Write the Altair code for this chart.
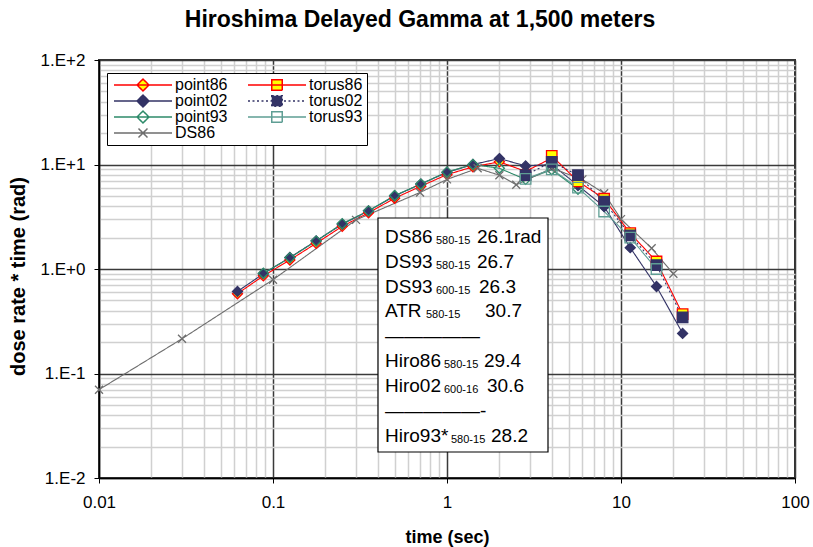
import altair as alt
import pandas as pd

FONT = "Liberation Sans"

# ---------------- data ----------------
point86_t = [0.0625, 0.088, 0.125, 0.177, 0.25, 0.354, 0.5, 0.707, 1.0, 1.41, 2.0, 2.83, 4.0]
point86_v = [0.58, 0.86, 1.22, 1.76, 2.56, 3.45, 4.75, 6.2, 8.0, 9.5, 10.6, 8.6, 11.5]

point02_t = [0.0625, 0.088, 0.125, 0.177, 0.25, 0.354, 0.5, 0.707, 1.0, 1.41, 2.0, 2.83, 4.0,
             5.66, 8.0, 11.3, 16.0, 22.6]
point02_v = [0.61, 0.90, 1.29, 1.86, 2.68, 3.6, 5.0, 6.5, 8.4, 10.0, 11.4, 9.7, 10.0,
             6.3, 3.95, 1.6, 0.68, 0.242]

point93_t = [0.088, 0.125, 0.177, 0.25, 0.354, 0.5, 0.707, 1.0, 1.41, 2.0, 2.83, 4.0, 5.66]
point93_v = [0.91, 1.28, 1.85, 2.72, 3.6, 5.05, 6.5, 8.5, 10.0, 9.2, 7.2, 8.9, 5.8]

ds86_t = [0.01, 0.03, 0.1, 0.3, 0.7, 1.0, 1.5, 2.0, 2.5, 4.0, 6.0, 8.0, 10.0, 15.0, 20.0]
ds86_v = [0.07, 0.215, 0.79, 2.95, 5.4, 7.2, 9.2, 7.9, 6.4, 9.2, 7.2, 5.3, 3.0, 1.58, 0.9]

torus86_t = [4.0, 5.66, 8.0, 11.3, 16.0, 22.6]
torus86_v = [12.1, 6.9, 4.7, 2.2, 1.18, 0.37]

torus02_t = [2.83, 4.0, 5.66, 8.0, 11.3, 16.0, 22.6]
torus02_v = [7.9, 10.6, 7.9, 4.4, 2.1, 1.09, 0.345]

torus93_t = [2.83, 4.0, 5.66, 8.0, 11.3, 16.0]
torus93_v = [7.3, 9.0, 6.0, 3.55, 2.0, 1.0]

series_order = ["point86", "point02", "point93", "DS86", "torus86", "torus02", "torus93"]

note_labels = ["DS86", "DS93", "DS93", "ATR", "Hiro86", "Hiro02", "Hiro93*"]
note_subs = ["580-15", "580-15", "600-15", "580-15", "580-15", "600-16", "580-15"]
note_values = ["26.1rad", "26.7", "26.3", "30.7", "29.4", "30.6", "28.2"]
note_dashes = ["—————", "—————-"]

# ---------------- build table ----------------
series_map = {
    "point86": (point86_t, point86_v),
    "point02": (point02_t, point02_v),
    "point93": (point93_t, point93_v),
    "DS86": (ds86_t, ds86_v),
    "torus86": (torus86_t, torus86_v),
    "torus02": (torus02_t, torus02_v),
    "torus93": (torus93_t, torus93_v),
}
rows = []
for name in series_order:
    ts, vs = series_map[name]
    for t, v in zip(ts, vs):
        rows.append({"series": name, "t": t, "v": v})
df = pd.DataFrame(rows)

# ---------------- styles (in series_order) ----------------
stroke_rng = ["#ff0000", "#333366", "#2e8b6a", "#6e6e6e", "#ff0000", "#333366", "#5f9e94"]
fill_rng = ["#ffff00", "#333366", "transparent", "transparent", "#ffff00", "#333366", "transparent"]
dash_rng = [[1, 0], [1, 0], [1, 0], [1, 0], [1, 0], [2, 2.5], [1, 0]]
DIAM = "M0,-1L1,0L0,1L-1,0Z"
SQR = "M-1.05,-1.05L1.05,-1.05L1.05,1.05L-1.05,1.05Z"
XMK = "M-0.8,-0.8L0.8,0.8M-0.8,0.8L0.8,-0.8"
shape_rng = [DIAM, DIAM, DIAM, XMK, SQR, SQR, SQR]
LD = "M-5.8,0L5.8,0M0,-1.2L1.2,0L0,1.2L-1.2,0Z"
LS = "M-5.8,0L5.8,0M-1.05,-1.05L1.05,-1.05L1.05,1.05L-1.05,1.05Z"
LX = "M-5.8,0L5.8,0M-0.9,-0.9L0.9,0.9M-0.9,0.9L0.9,-0.9"
legend_shape_rng = [LD, LD, LD, LX, LS, LS, LS]


def sc(rng):
    return alt.Scale(domain=series_order, range=rng)


major = "abs(log(datum.value)/LN10 - round(log(datum.value)/LN10)) < 0.001"
grid_vals = [k * 10.0 ** e for e in range(-2, 2) for k in range(1, 10)] + [100.0]
grid_color = {"condition": {"test": major, "value": "#3a3a3a"}, "value": "#d0d0d0"}
tick_size = {"condition": {"test": major, "value": 5}, "value": 0}

x_axis = alt.Axis(
    values=grid_vals, labelExpr=f"{major} ? format(datum.value, '~g') : ''",
    grid=True, gridColor=grid_color, gridWidth=1.5, tickSize=tick_size, tickColor="black",
    domainColor="black", domainWidth=1.5, labelFont=FONT, labelFontSize=17, labelColor="black",
    labelPadding=11, labelFlush=False, labelOverlap=False,
    title="time (sec)", titleFont=FONT, titleFontSize=18, titleFontWeight="bold", titleColor="black",
    titleX=348, titleY=59, titleBaseline="middle", titleAlign="center",
)
y_axis = alt.Axis(
    values=grid_vals,
    labelExpr=(f"{major} ? ('1.E' + (round(log(datum.value)/LN10) >= 0 ? '+' : '-') + "
               "abs(round(log(datum.value)/LN10))) : ''"),
    grid=True, gridColor=grid_color, gridWidth=1.5, tickSize=tick_size, tickColor="black",
    domainColor="black", domainWidth=1.5, labelFont=FONT, labelFontSize=17, labelColor="black",
    labelPadding=9, labelOverlap=False, labelFlush=False,
    title="dose rate * time (rad)", titleFont=FONT, titleFontSize=20, titleFontWeight="bold",
    titleColor="black", titleX=-81, titleY=216, titleAngle=-90, titleBaseline="middle",
    titleAlign="center",
)

X = alt.X("t:Q", scale=alt.Scale(type="log", domain=[0.01, 100], nice=False), axis=x_axis)
Y = alt.Y("v:Q", scale=alt.Scale(type="log", domain=[0.01, 100], nice=False), axis=y_axis)

lines = alt.Chart(df).mark_line(strokeWidth=1.1).encode(
    x=X, y=Y,
    stroke=alt.Stroke("series:N", scale=sc(stroke_rng), legend=None),
    strokeDash=alt.StrokeDash("series:N", scale=sc(dash_rng), legend=None),
)

points = alt.Chart(df).mark_point(opacity=1, size=100, strokeWidth=1.3).encode(
    x=X, y=Y,
    shape=alt.Shape("series:N", scale=sc(shape_rng), legend=None),
    fill=alt.Fill("series:N", scale=sc(fill_rng), legend=None),
    stroke=alt.Stroke("series:N", scale=sc(stroke_rng), legend=None),
)

leg = alt.Legend(
    title=None, orient="none", legendX=8, legendY=13, columns=2,
    symbolSize=100, symbolOffset=24, labelOffset=24,
    labelFont=FONT, labelFontSize=16, labelColor="black", labelLimit=0,
    padding=4, strokeColor="black", fillColor="white", cornerRadius=0,
    clipHeight=16, rowPadding=0, columnPadding=17,
)
legend_layer = alt.Chart(df).transform_filter("false").mark_point(opacity=1, strokeWidth=1.2).encode(
    x=X, y=Y,
    fill=alt.Fill("series:N", scale=sc(fill_rng), legend=leg),
    stroke=alt.Stroke("series:N", scale=sc(stroke_rng), legend=leg),
    shape=alt.Shape("series:N", scale=sc(legend_shape_rng), legend=leg),
    strokeDash=alt.StrokeDash("series:N", scale=sc(dash_rng), legend=leg),
)

# ---------------- annotation box ----------------
one = pd.DataFrame({"a": [0]})
box = alt.Chart(one).mark_rect(fill="white", stroke="black", strokeWidth=1.2).encode(
    x=alt.value(279), x2=alt.value(449), y=alt.value(158), y2=alt.value(392))

row_y = [177, 202, 227, 251, 301, 326, 376]
dash_y = [276, 351]
sub_x = [337, 337, 337, 327, 345, 345, 352]
val_x = [378, 378, 380, 386, 385, 388, 392]

ann = []
for lab, sub, val, yy, sx, vx in zip(note_labels, note_subs, note_values, row_y, sub_x, val_x):
    ann.append(alt.Chart(one).mark_text(text=lab, font=FONT, fontSize=19, align="left",
                                        baseline="middle", color="black")
               .encode(x=alt.value(286), y=alt.value(yy)))
    ann.append(alt.Chart(one).mark_text(text=sub, font=FONT, fontSize=11, align="left",
                                        baseline="middle", color="black")
               .encode(x=alt.value(sx), y=alt.value(yy + 4)))
    ann.append(alt.Chart(one).mark_text(text=val, font=FONT, fontSize=19, align="left",
                                        baseline="middle", color="black")
               .encode(x=alt.value(vx), y=alt.value(yy)))
for d, yy in zip(note_dashes, dash_y):
    ann.append(alt.Chart(one).mark_text(text=d, font=FONT, fontSize=19, align="left",
                                        baseline="middle", color="black")
               .encode(x=alt.value(286), y=alt.value(yy)))

chart = alt.layer(lines, points, legend_layer, box, *ann).resolve_scale(
    stroke="independent", fill="independent", shape="independent", strokeDash="independent"
).properties(
    width=696, height=418,
    padding={"left": 99, "top": 60, "right": 18, "bottom": 69},
    autosize=alt.AutoSizeParams(type="none"),
    title=alt.TitleParams("Hiroshima Delayed Gamma at 1,500 meters", font=FONT, fontSize=23,
                          fontWeight="bold", color="black", anchor="middle", dx=-27, offset=19),
).configure_view(stroke="#333333", strokeWidth=2)

chart.save("out.html", embed_options={"renderer": "svg", "actions": False})
